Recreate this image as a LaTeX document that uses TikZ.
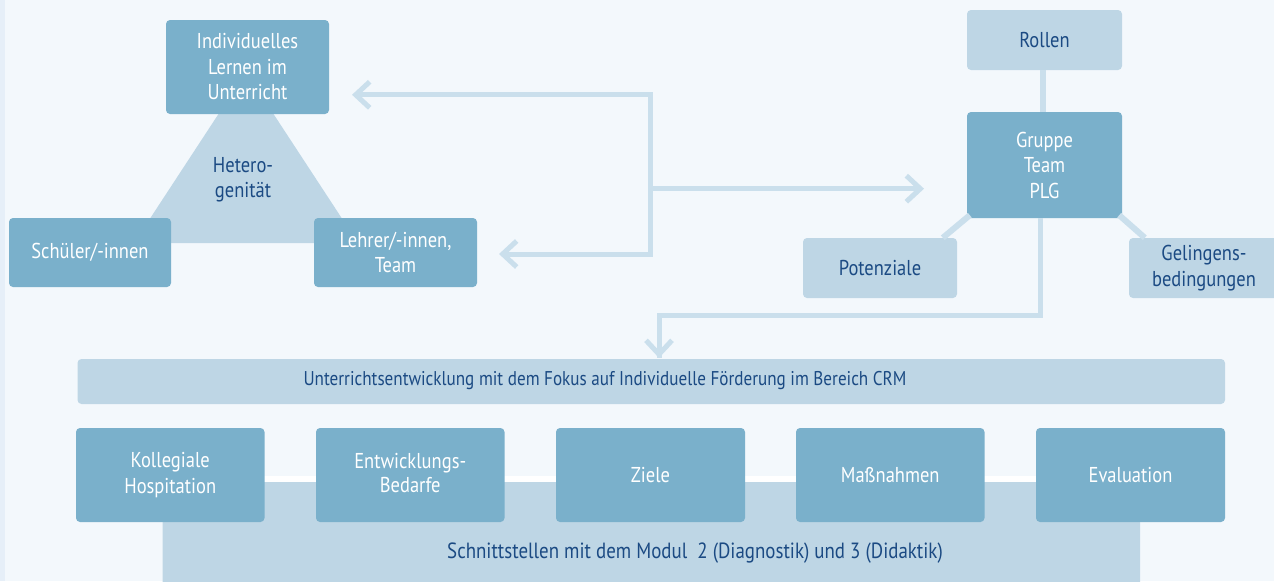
\documentclass[tikz,border=0pt]{standalone}
\usepackage{fontspec}
\setmainfont{PT Sans}[FakeStretch=0.86]
\usetikzlibrary{arrows.meta}
\definecolor{bg}{HTML}{F3F8FC}
\definecolor{strip}{HTML}{E6EFF8}
\definecolor{dbox}{HTML}{7AB0CB}
\definecolor{lbox}{HTML}{BED6E5}
\definecolor{conn}{HTML}{CADFEC}
\definecolor{tblue}{HTML}{1B4A83}
\begin{document}
\begin{tikzpicture}[x=1pt,y=-1pt,
  box/.style={rectangle, rounded corners=4pt, inner sep=0pt, align=center,
    font=\fontsize{21.5}{25.5}\selectfont},
  dark/.style={box, fill=dbox, text=white},
  light/.style={box, fill=lbox, text=tblue},
  conline/.style={draw=conn, line width=5pt},
  arr/.style={conline, -{Straight Barb[length=14pt,width=26pt]}},
  bar/.style={rectangle, rounded corners=4pt, fill=lbox, inner sep=0pt}
]
\useasboundingbox (0,0) rectangle (1274,581);
\fill[bg] (0,0) rectangle (1274,581);
\fill[strip] (0,0) rectangle (5,581);

% triangle
\fill[lbox] (246,72) -- (358,243) -- (134,243) -- cycle;
\node[text=tblue, align=center, font=\fontsize{21.5}{25.5}\selectfont] (het) at (243,180) {Hetero-\\genität};

% left group
\node[dark, minimum width=163pt, minimum height=94pt] (ind) at (247.5,67) {Individuelles\\Lernen im\\Unterricht};
\node[dark, minimum width=162pt, minimum height=69pt] (sch) at (90,252.5) {Schüler/-innen};
\node[dark, minimum width=163pt, minimum height=69pt] (leh) at (395.5,252.5) {Lehrer/-innen,\\Team};

% right group
\node[light, minimum width=155pt, minimum height=60pt] (rol) at (1044.5,40) {Rollen};
\node[dark, minimum width=155pt, minimum height=106pt] (gru) at (1044.5,165) {Gruppe\\Team\\PLG};
\node[light, minimum width=154pt, minimum height=60pt] (pot) at (880,268) {Potenziale};
\node[light, minimum width=150pt, minimum height=60pt] (gel) at (1204,268) {Gelingens-\\bedingungen};

% connectors between right group
\draw[conline, line width=6pt] (rol.south -| 1043,0) -- (gru.north -| 1043,0);
\draw[conline, line width=6pt] ([shift={(3,-3)}]gru.south west) -- ([xshift=140pt]pot.north west);
\draw[conline, line width=6pt] ([shift={(-3,-3)}]gru.south east) -- ([xshift=16pt]gel.north west);

% central junction arrows
\coordinate (jt) at (650,94.8);
\coordinate (jb) at (650,254);
\coordinate (jm) at (650,188.7);
\coordinate (tA) at (352,94.8);
\coordinate (tB) at (499,254);
\coordinate (tC) at (924,188.7);
\draw[conline, line cap=rect] (jt) -- (jb);
\draw[arr] (jt) -- (tA);
\draw[arr] (jb) -- (tB);
\draw[arr] (jm) -- (tC);

% bars
\node[bar, minimum width=1147.5pt, minimum height=45pt] (ue) at (651.25,381.5) {};
\node[text=tblue, font=\fontsize{19.9}{22}\selectfont, anchor=center] (uet) at (605,381) {Unterrichtsentwicklung mit dem Fokus auf Individuelle Förderung im Bereich CRM};

\fill[white] (162.5,476) rectangle (1140,482);
\fill[lbox, rounded corners=4pt] (162.5,482) rectangle (1140,600);
\node[text=tblue, font=\fontsize{22}{24}\selectfont] (sst) at (695,553) {Schnittstellen mit dem Modul\ \ 2 (Diagnostik) und 3 (Didaktik)};

% down arrow from Gruppe
\coordinate (d1) at (1040,315);
\coordinate (d2) at (659,315);
\coordinate (d3) at (659,358);
\draw[conline, line join=miter] (gru.south -| d1) -- (d1) -- (d2) -- (d3);
\draw[arr] ([yshift=-1pt]d2) -- (d3);

% bottom boxes
\node[dark, minimum width=188.5pt, minimum height=94pt] (kol) at (170.25,475) {Kollegiale\\Hospitation};
\node[dark, minimum width=188.5pt, minimum height=94pt] (ent) at (410.25,475) {\raisebox{4pt}{\shortstack{Entwicklungs-\\[1pt]Bedarfe}}};
\node[dark, minimum width=189pt, minimum height=94pt] (zie) at (650.5,475) {Ziele};
\node[dark, minimum width=188.5pt, minimum height=94pt] (mas) at (890.25,475) {Maßnahmen};
\node[dark, minimum width=189pt, minimum height=94pt] (eva) at (1130.5,475) {Evaluation};
\end{tikzpicture}
\end{document}
